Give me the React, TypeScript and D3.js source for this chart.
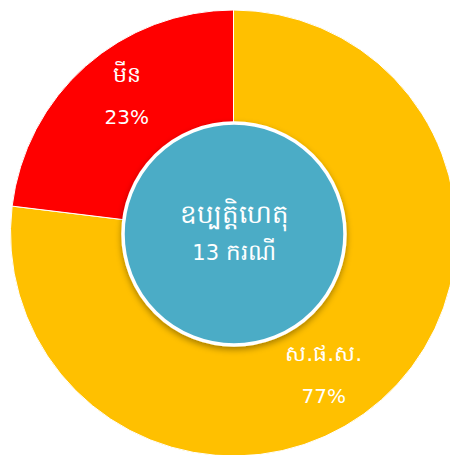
import React from "react";
import * as d3 from "d3";

// slice data (clockwise from 12 o'clock)
const labels = ["ស.ផ.ស.", "មីន"];
const values = [10, 3];
const colors = ["#FFC000", "#FF0000"];
const centerTitle = "ឧប្បត្តិហេតុ";
const centerCount = 13;
const centerUnit = "ករណី";

const W = 450;
const H = 455;

const App = () => {
  const cx = 233.5;
  const cy = 233;
  const outerR = 223;
  const holeR = 111;

  const total = d3.sum(values);
  const pie = d3
    .pie<number>()
    .sort(null)
    .value((d) => d);
  const arcs = pie(values);

  const arc = d3.arc<d3.PieArcDatum<number>>().innerRadius(60).outerRadius(outerR);

  // label spot a bit past the middle of each slice
  const labelPos = (d: d3.PieArcDatum<number>) => {
    const a = d.startAngle + (d.endAngle - d.startAngle) * 0.535;
    const r = 171;
    return [Math.sin(a) * r, -Math.cos(a) * r];
  };

  const font = "'DejaVu Sans', 'Noto Sans', sans-serif";
  const khmerSize = 22;
  const latinSize = 20;

  return (
    <svg
      width={W}
      height={H}
      style={{ position: "absolute", left: 0, top: 0 }}
      fontFamily={font}
    >
      <defs>
        <filter id="shadow" x="-20%" y="-20%" width="140%" height="140%">
          <feDropShadow dx="0" dy="3" stdDeviation="3" floodColor="#000" floodOpacity="0.35" />
        </filter>
      </defs>
      <g transform={`translate(${cx},${cy})`}>
        {arcs.map((d, i) => (
          <path key={i} d={arc(d) || ""} fill={colors[i]} stroke="#fff" strokeWidth={1} />
        ))}
        {arcs.map((d, i) => {
          const [x, y] = labelPos(d);
          const pct = d3.format(".0%")(d.value / total);
          return (
            <g key={"l" + i} transform={`translate(${x},${y})`} fill="#fff" textAnchor="middle">
              <text y={-17} fontSize={khmerSize}>{labels[i]}</text>
              <text y={25} fontSize={latinSize}>{pct}</text>
            </g>
          );
        })}
        <circle cx={0.5} cy={1} r={holeR} fill="#4BACC6" stroke="#fff" strokeWidth={3.5} filter="url(#shadow)" />
        <g fill="#fff" textAnchor="middle">
          <text x={0.5} y={-10} fontSize={26}>{centerTitle}</text>
          <text x={0.5} y={27}>
            <tspan fontSize={latinSize + 1}>{centerCount} </tspan>
            <tspan fontSize={23}>{centerUnit}</tspan>
          </text>
        </g>
      </g>
    </svg>
  );
};

export default App;
